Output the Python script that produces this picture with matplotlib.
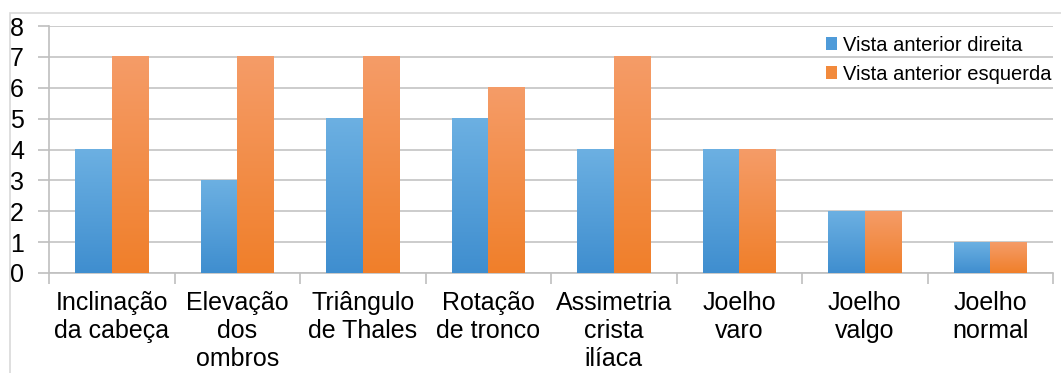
import numpy as np
import matplotlib.pyplot as plt
from matplotlib.patches import Rectangle
from matplotlib.colors import LinearSegmentedColormap

plt.rcParams['font.family'] = ['Liberation Sans', 'DejaVu Sans']

# Data
categories = ["Inclinação\nda cabeça", "Elevação\ndos\nombros", "Triângulo\nde Thales",
              "Rotação\nde tronco", "Assimetria\ncrista\nilíaca", "Joelho\nvaro",
              "Joelho\nvalgo", "Joelho\nnormal"]
direita = [4, 3, 5, 5, 4, 4, 2, 1]
esquerda = [7, 7, 7, 6, 7, 4, 2, 1]
series_names = ["Vista anterior direita", "Vista anterior esquerda"]

fig = plt.figure(figsize=(10.61, 3.73), dpi=100)
ax = fig.add_axes([49 / 1061, 100 / 373, 1004 / 1061, 247 / 373])

# outer chart border
fig.patches.append(Rectangle((10 / 1061, -0.1), 1.2, (360 / 373) + 0.1, transform=fig.transFigure,
                             fill=False, edgecolor='#d9d9d9', linewidth=1.2))

x = np.arange(len(categories))
w = 0.29
b1 = ax.bar(x - w / 2, direita, w, color='#4f9bd9', label=series_names[0], zorder=3)
b2 = ax.bar(x + w / 2, esquerda, w, color='#f28a3c', label=series_names[1], zorder=3)

# vertical gradient fill inside each bar (lighter at the top)
grads = [LinearSegmentedColormap.from_list('b', ['#3f8ecf', '#6cb0e2']),
         LinearSegmentedColormap.from_list('o', ['#f07f2a', '#f59c68'])]
ramp = np.linspace(0, 1, 256).reshape(-1, 1)
for bars, cmap in zip([b1, b2], grads):
    for bar in bars:
        x0, y0 = bar.get_x(), bar.get_y()
        bw, bh = bar.get_width(), bar.get_height()
        bar.set_facecolor('none')
        bar.set_edgecolor('none')
        ax.imshow(ramp, cmap=cmap, origin='lower', aspect='auto',
                  extent=[x0, x0 + bw, y0, y0 + bh], zorder=3)

ax.set_xlim(-0.5, len(categories) - 0.5)
ax.set_ylim(0, 8)
ax.set_yticks(range(0, 9))
ax.tick_params(axis='y', labelsize=18, length=8, color='#bfbfbf', width=1.2, pad=10)
ax.yaxis.grid(True, color='#c8c8c8', linewidth=1.3, zorder=0)
ax.set_axisbelow(True)

ax.set_xticks(x)
ax.set_xticklabels(categories, fontsize=18, linespacing=1.22)
ax.set_xticks(np.arange(-0.5, len(categories)), minor=True)
ax.tick_params(axis='x', which='major', length=0, pad=13)
ax.tick_params(axis='x', which='minor', length=8, color='#bfbfbf', width=1.2)

for side in ['top', 'right']:
    ax.spines[side].set_visible(False)
for side in ['left', 'bottom']:
    ax.spines[side].set_color('#bfbfbf')
    ax.spines[side].set_linewidth(1.2)

leg = ax.legend(loc='upper right', bbox_to_anchor=(1.011, 1.01), frameon=False, fontsize=14.5,
                handlelength=0.55, handleheight=0.55, handletextpad=0.3, labelspacing=0.5,
                borderaxespad=0.2)
leg.legend_handles[0].set_facecolor('#4f9bd9')
leg.legend_handles[1].set_facecolor('#f28a3c')

fig.savefig('out.png', dpi=100)
